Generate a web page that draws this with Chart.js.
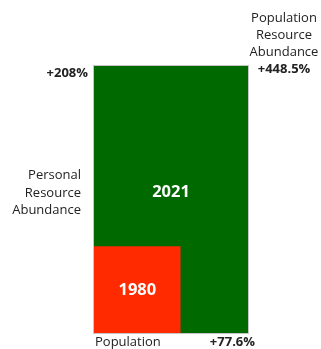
<!DOCTYPE html>
<html>
<head>
<meta charset="utf-8">
<script src="https://cdn.jsdelivr.net/npm/chart.js@4"></script>
<style>
  html, body { margin: 0; padding: 0; background: #ffffff; }
  #wrap { width: 321px; height: 349px; }
</style>
</head>
<body>
<div id="wrap"><canvas id="c" width="321" height="349"></canvas></div>
<script>
// Each period is a rectangle: width = population index, height = personal resource abundance index (1980 = 1)
const years = ['1980', '2021'];
const populationIndex = [1, 1.776];
const personalAbundanceIndex = [1, 3.08];
const populationChange = '+77.6%';
const personalChange = '+208%';
const populationAbundanceChange = '+448.5%';
const colors = ['#ff2a00', '#006a00'];

const FONT = '"Open Sans", Lato, sans-serif';

// 1980 first so it is painted on top of 2021
const datasets = years.map((y, i) => ({
  label: y,
  data: [{ x: 0, y: personalAbundanceIndex[i] }, { x: populationIndex[i], y: personalAbundanceIndex[i] }],
  borderWidth: 0,
  pointRadius: 0,
  backgroundColor: colors[i],
  borderColor: colors[i],
  fill: 'origin'
}));

const labelPlugin = {
  id: 'labels',
  afterDatasetsDraw(chart) {
    const ctx = chart.ctx;
    const xs = chart.scales.x, ys = chart.scales.y;
    const x0 = xs.getPixelForValue(0), y0 = ys.getPixelForValue(0);
    const gx = xs.getPixelForValue(populationIndex[1]);
    const gy = ys.getPixelForValue(personalAbundanceIndex[1]);
    const rx = xs.getPixelForValue(populationIndex[0]);
    const ry = ys.getPixelForValue(personalAbundanceIndex[0]);
    const midY = (gy + y0) / 2;
    ctx.save();
    ctx.textBaseline = 'middle';

    // faint outline round the rectangles
    ctx.strokeStyle = 'rgba(160,160,160,0.6)';
    ctx.lineWidth = 1;
    ctx.strokeRect(x0 - 0.5, gy - 0.5, gx - x0 + 1, y0 - gy + 1);

    // year labels inside rectangles
    ctx.fillStyle = '#ffffff';
    ctx.font = 'bold 16.5px ' + FONT;
    ctx.textAlign = 'center';
    ctx.fillText(years[1], (x0 + gx) / 2, midY - 7);
    ctx.fillText(years[0], (x0 + rx) / 2, (ry + y0) / 2 + 1);

    ctx.fillStyle = '#222222';
    // personal resource abundance change
    ctx.font = 'bold 13px ' + FONT;
    ctx.textAlign = 'right';
    ctx.fillText(personalChange, x0 - 6, gy + 7);

    ctx.font = '13px ' + FONT;
    ['Personal', 'Resource', 'Abundance'].forEach((t, i) => {
      ctx.fillText(t, x0 - 13, midY - 24 + i * 17.5);
    });

    // population change along the bottom
    ctx.textAlign = 'left';
    ctx.fillText('Population', x0 + 1, y0 + 9);
    ctx.font = 'bold 13px ' + FONT;
    ctx.textAlign = 'right';
    ctx.fillText(populationChange, gx + 7, y0 + 9);

    // population resource abundance, top right
    ctx.textAlign = 'center';
    ctx.font = '13px ' + FONT;
    const cx = gx + 36;
    ['Population', 'Resource', 'Abundance'].forEach((t, i) => {
      ctx.fillText(t, cx, gy - 48 + i * 17);
    });
    ctx.font = 'bold 13px ' + FONT;
    ctx.fillText(populationAbundanceChange, cx, gy + 3);
    ctx.restore();
  }
};

new Chart(document.getElementById('c'), {
  type: 'line',
  data: { datasets },
  options: {
    responsive: false,
    animation: false,
    layout: { padding: { left: 94, right: 73, top: 66, bottom: 16 } },
    plugins: { legend: { display: false }, tooltip: { enabled: false } },
    scales: {
      x: { type: 'linear', min: 0, max: populationIndex[1], display: false },
      y: { type: 'linear', min: 0, max: personalAbundanceIndex[1], display: false }
    }
  },
  plugins: [labelPlugin]
});
</script>
</body>
</html>
